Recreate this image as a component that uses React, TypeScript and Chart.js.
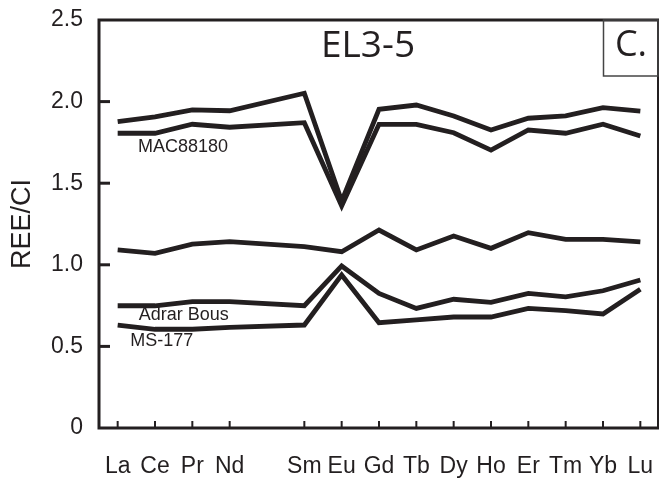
import React, { useEffect, useRef } from 'react';
import { Chart, registerables } from 'chart.js';

Chart.register(...registerables);

const elements = ['La', 'Ce', 'Pr', 'Nd', 'Pm', 'Sm', 'Eu', 'Gd', 'Tb', 'Dy', 'Ho', 'Er', 'Tm', 'Yb', 'Lu'];
const xTickLabels = ['La', 'Ce', 'Pr', 'Nd', '', 'Sm', 'Eu', 'Gd', 'Tb', 'Dy', 'Ho', 'Er', 'Tm', 'Yb', 'Lu'];
const yTickValues = [0, 0.5, 1.0, 1.5, 2.0, 2.5];

const upperSeries = [1.877, 1.907, 1.949, 1.944, null, 2.051, 1.39, 1.953, 1.979, 1.912, 1.826, 1.898, 1.912, 1.963, 1.942];
const mac88180 = [1.806, 1.806, 1.861, 1.843, null, 1.871, 1.36, 1.861, 1.861, 1.809, 1.703, 1.826, 1.806, 1.861, 1.789];
const middleSeries = [1.091, 1.070, 1.127, 1.142, null, 1.111, 1.080, 1.213, 1.091, 1.176, 1.101, 1.197, 1.156, 1.156, 1.140];
const adrarBous = [0.749, 0.749, 0.774, 0.774, null, 0.749, 0.993, 0.825, 0.733, 0.789, 0.770, 0.825, 0.804, 0.841, 0.907];
const ms177 = [0.631, 0.605, 0.605, 0.617, null, 0.631, 0.938, 0.645, 0.662, 0.680, 0.680, 0.733, 0.719, 0.699, 0.850];

const seriesNames = ['Upper', 'MAC88180', 'Middle', 'Adrar Bous', 'MS-177'];
const seriesValues = [upperSeries, mac88180, middleSeries, adrarBous, ms177];

// in-plot text labels: [text, x (category index), y (value)]
const seriesLabels: [string, number, number][] = [
  ['MAC88180', 1.75, 1.722],
  ['Adrar Bous', 1.77, 0.692],
  ['MS-177', 1.18, 0.533],
];

const INK = '#231f20';

const framePlugin = {
  id: 'framePlugin',
  afterDraw(chart: any) {
    const { ctx, chartArea: a, scales } = chart;
    const x = scales.x;
    const y = scales.y;
    ctx.save();
    ctx.strokeStyle = INK;
    ctx.lineCap = 'square';
    ctx.lineWidth = 3;
    ctx.beginPath();
    ctx.moveTo(a.right, a.top);
    ctx.lineTo(a.left, a.top);
    ctx.lineTo(a.left, a.bottom);
    ctx.lineTo(a.right, a.bottom);
    ctx.stroke();
    ctx.lineWidth = 2;
    ctx.beginPath();
    ctx.moveTo(a.right - 1, a.top);
    ctx.lineTo(a.right - 1, a.bottom);
    ctx.stroke();
    ctx.lineWidth = 3;
    ctx.lineCap = 'butt';
    yTickValues.forEach((v) => {
      if (v === 0 || v === 2.5) return;
      const py = y.getPixelForValue(v);
      ctx.beginPath();
      ctx.moveTo(a.left, py);
      ctx.lineTo(a.left + 11, py);
      ctx.stroke();
    });
    ctx.lineWidth = 2;
    xTickLabels.forEach((lab, i) => {
      if (!lab) return;
      const px = x.getPixelForValue(i);
      ctx.beginPath();
      ctx.moveTo(px, a.bottom);
      ctx.lineTo(px, a.bottom - 7);
      ctx.stroke();
    });
    ctx.fillStyle = INK;
    ctx.textBaseline = 'middle';
    ctx.textAlign = 'left';
    ctx.font = '37px "Open Sans"';
    ctx.fillText('EL3-5', 321, 46);
    ctx.lineWidth = 1.5;
    ctx.strokeStyle = '#444';
    ctx.strokeRect(603.5, a.top, a.right - 1 - 603.5, 56);
    ctx.font = '36px "Open Sans"';
    ctx.textAlign = 'center';
    ctx.fillText('C.', 631, 46);
    ctx.font = '18px "Liberation Sans"';
    seriesLabels.forEach(([t, xi, yv]) => {
      ctx.fillText(t, x.getPixelForValue(xi), y.getPixelForValue(yv));
    });
    ctx.restore();
  },
};

export default function App() {
  const ref = useRef<HTMLCanvasElement>(null);
  useEffect(() => {
    if (!ref.current) return;
    const chart = new Chart(ref.current, {
      type: 'line',
      data: {
        labels: elements,
        datasets: seriesValues.map((vals, i) => ({
          label: seriesNames[i],
          data: vals,
          borderColor: INK,
          backgroundColor: INK,
          borderWidth: 4.8,
          pointRadius: 0,
          tension: 0,
          spanGaps: true,
          borderJoinStyle: 'miter' as const,
          borderCapStyle: 'butt' as const,
        })),
      },
      options: {
        responsive: false,
        animation: false,
        layout: { padding: { top: 20, right: 0, left: 0, bottom: 0 } },
        plugins: {
          legend: { display: false },
          tooltip: { enabled: false },
        },
        scales: {
          x: {
            type: 'category',
            offset: true,
            grid: { display: false, drawTicks: false },
            border: { display: false },
            ticks: {
              autoSkip: false,
              maxRotation: 0,
              padding: 25,
              color: INK,
              font: { family: '"Liberation Sans"', size: 23 },
              callback: (_v: any, i: number) => xTickLabels[i],
            },
            afterFit: (s: any) => {
              s.height = 52;
              s.paddingLeft = 0;
              s.paddingRight = 0;
            },
          },
          y: {
            min: 0,
            max: 2.5,
            grid: { display: false, drawTicks: false },
            border: { display: false },
            afterBuildTicks: (s: any) => {
              s.ticks = yTickValues.map((v) => ({ value: v }));
            },
            ticks: {
              padding: 16,
              color: INK,
              font: { family: '"Liberation Sans"', size: 23 },
              callback: (v: any) => (v === 0 ? '0' : Number(v).toFixed(1)),
            },
            title: {
              display: true,
              text: 'REE/CI',
              color: INK,
              font: { family: '"Liberation Sans"', size: 27, weight: 'normal' },
              padding: { top: 6, bottom: 0 },
            },
            afterFit: (s: any) => {
              s.width = 99;
              s.paddingTop = 0;
              s.paddingBottom = 0;
            },
          },
        },
      },
      plugins: [framePlugin],
    });
    return () => chart.destroy();
  }, []);
  return (
    <div style={{ position: 'fixed', left: 0, top: 0, width: 659, height: 480, background: '#fff' }}>
      <canvas ref={ref} width={659} height={480} style={{ display: 'block' }} />
    </div>
  );
}
